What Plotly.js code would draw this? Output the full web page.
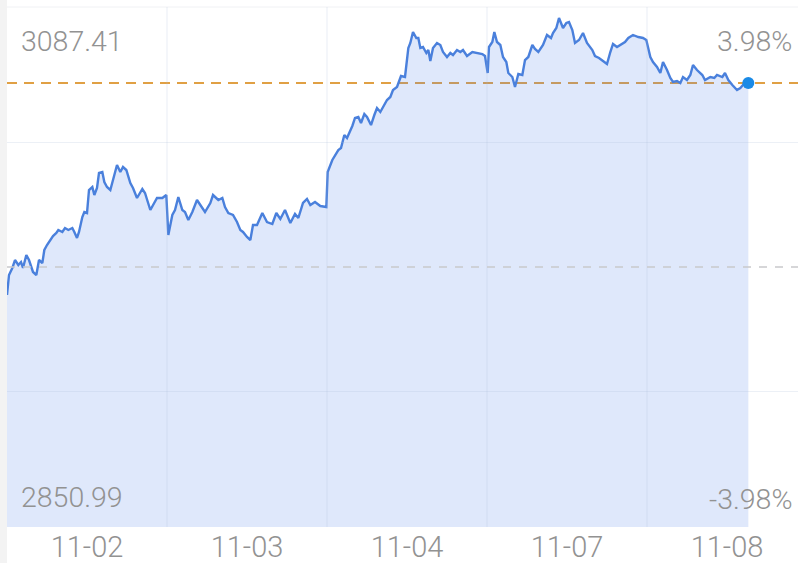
<!DOCTYPE html>
<html>
<head>
<meta charset="utf-8">
<script src="https://cdn.plot.ly/plotly-3.0.1.min.js"></script>
<style>
  html, body { margin: 0; padding: 0; background: #ffffff; }
  #chart { width: 798px; height: 563px; }
</style>
</head>
<body>
<div id="chart"></div>
<script>
// ---- data ----
const dayLabels = ['11-02', '11-03', '11-04', '11-07', '11-08'];
const minutesPerDay = 240;
const prevClose = 2969.20;
const highValue = 3087.41;
const lowValue = 2850.99;
const highLabel = '3087.41';
const lowLabel = '2850.99';
const pctUpLabel = '3.98%';
const pctDownLabel = '-3.98%';

// minute offset over the five trading sessions
const minutes = [
  0, 3, 8, 12, 17, 21, 24, 29, 33, 39, 44, 48, 53, 56, 60, 65, 69, 74, 77, 83,
  87, 92, 98, 101, 105, 108, 113, 116, 120, 123, 128, 131, 135, 138, 143, 146, 150, 155, 159, 162,
  165, 170, 174, 179, 185, 189, 195, 203, 207, 215, 219, 225, 233, 239,
  242, 248, 252, 257, 263, 267, 272, 278, 285, 290, 297, 305, 309, 317, 323, 327,
  332, 339, 345, 350, 354, 360, 365, 369, 375, 383, 390, 398, 404, 410, 417, 425,
  432, 437, 444, 450, 455, 462, 470, 479,
  481, 488, 494, 497, 501, 506, 510, 518, 522, 527, 531, 536, 540, 546, 551, 555,
  560, 566, 570, 575, 579, 585, 591, 597, 602, 605, 609, 614, 617, 620, 624, 629,
  632, 635, 639, 645, 650, 654, 660, 665, 669, 675, 680, 684, 690, 698, 705, 713, 717,
  721, 723, 728, 731, 735, 740, 744, 749, 752, 758, 762, 767, 773, 777, 782, 788,
  792, 797, 804, 810, 816, 819, 824, 828, 834, 839, 843, 848, 852, 858, 864, 870,
  878, 882, 888, 894, 900, 905, 909, 915, 920, 927, 932, 939, 947, 954, 959,
  965, 969, 975, 980, 984, 990, 995, 999, 1005, 1010, 1014, 1020, 1025, 1029, 1035,
  1043, 1047, 1055, 1061, 1065, 1073, 1077, 1082, 1088, 1095, 1100, 1104, 1112
];

const prices = [
  2955.91, 2965.40, 2968.73, 2972.52, 2970.15, 2971.57, 2968.73, 2974.90, 2972.52, 2966.83,
  2965.40, 2972.52, 2971.10, 2977.27, 2979.64, 2982.02, 2983.92, 2985.34, 2986.77, 2985.82,
  2987.71, 2986.77, 2987.71, 2985.82, 2982.97, 2985.82, 2992.94, 2995.31, 2994.84, 3005.75,
  3007.18, 3003.38, 3006.70, 3013.83, 3014.30, 3009.55, 3007.18, 3005.75, 3010.50, 3012.88,
  3017.62, 3014.30, 3016.67, 3015.25, 3009.08, 3006.70, 3001.96, 3006.23, 3004.33, 2996.26,
  2998.63, 3001.96, 3001.96, 3003.38,
  2984.39, 2993.89, 2996.26, 3002.43, 2996.26, 2995.31, 2991.51, 2995.31, 3001.01, 2998.63,
  2995.31, 2999.58, 3003.38, 3001.01, 3001.96, 2997.68,
  2994.84, 2993.89, 2990.56, 2986.77, 2985.82, 2983.44, 2982.02, 2989.14, 2989.14, 2994.84,
  2990.56, 2989.61, 2994.84, 2991.99, 2996.26, 2990.09,
  2994.36, 2992.46, 2999.58, 3001.48, 2998.63, 3000.06, 2998.16, 2997.68,
  3014.30, 3020.00, 3022.85, 3024.74, 3025.69, 3031.87, 3030.44, 3036.14, 3039.94, 3040.41,
  3037.56, 3041.83, 3040.41, 3036.61, 3041.36, 3044.68,
  3042.78, 3046.58, 3048.48, 3049.91, 3053.23, 3054.65, 3059.88, 3059.40, 3073.17, 3075.54,
  3080.76, 3077.92, 3077.92, 3073.17, 3073.64, 3070.79,
  3072.22, 3067.00, 3073.17, 3075.54, 3074.59, 3071.27, 3068.90, 3070.79, 3069.84, 3072.22,
  3071.27, 3072.22, 3069.37, 3071.27, 3070.79, 3070.32, 3069.37,
  3061.30, 3073.64, 3076.02, 3080.76, 3076.02, 3074.59, 3068.90, 3066.52, 3061.30, 3059.40,
  3054.65, 3060.82, 3060.35, 3067.47, 3068.90, 3074.59,
  3072.69, 3071.27, 3074.59, 3079.34, 3077.92, 3080.29, 3082.66, 3087.41, 3082.66, 3085.04,
  3085.51, 3081.71, 3075.54, 3076.97, 3080.29, 3075.54,
  3072.22, 3069.37, 3068.42, 3067.00, 3065.57, 3071.27, 3075.07, 3073.64, 3074.59, 3076.02,
  3077.92, 3079.34, 3078.39, 3077.92, 3076.97,
  3068.90, 3066.52, 3064.15, 3061.30, 3066.52, 3062.72, 3058.93, 3057.03, 3057.50, 3056.55,
  3059.40, 3057.98, 3060.35, 3065.10, 3062.72,
  3060.35, 3057.98, 3059.40, 3058.93, 3060.35, 3059.40, 3061.30, 3057.98, 3055.60, 3053.23,
  3054.18, 3055.60, 3056.55
];

// ---- derived from the data ----
const lastMinute = minutes[minutes.length - 1];
const lastPrice = prices[prices.length - 1];
const maxDev = highValue - prevClose;
const dayCenters = dayLabels.map((_, i) => i * minutesPerDay + minutesPerDay / 2);
const dayBounds = dayLabels.slice(1).map((_, i) => (i + 1) * minutesPerDay);

const gridColor = 'rgba(170,185,215,0.22)';
const textColor = '#929292';
const fontFam = 'Roboto, "Noto Sans", sans-serif';

const traces = [
  {
    x: minutes,
    y: prices,
    type: 'scatter',
    mode: 'lines',
    fill: 'tozeroy',
    fillcolor: 'rgba(80,130,232,0.18)',
    line: { color: '#4a80dc', width: 2.4 },
    hoverinfo: 'x+y',
    showlegend: false
  },
  {
    x: [lastMinute],
    y: [lastPrice],
    type: 'scatter',
    mode: 'markers',
    marker: { color: '#1a8ae6', size: 12 },
    showlegend: false,
    hoverinfo: 'y'
  }
];

const shapes = [];
// left gray strip
shapes.push({ type: 'rect', xref: 'paper', yref: 'paper', x0: -0.0095, x1: 0, y0: -0.07, y1: 1.02,
  fillcolor: '#f3f3f3', line: { width: 0 }, layer: 'below' });
// top border line
shapes.push({ type: 'line', xref: 'paper', yref: 'paper', x0: 0, x1: 1, y0: 1, y1: 1,
  line: { color: '#f0f1f4', width: 1 }, layer: 'above' });
// day separators
dayBounds.forEach(b => shapes.push({
  type: 'line', xref: 'x', yref: 'paper', x0: b, x1: b, y0: 0, y1: 1,
  line: { color: gridColor, width: 1.2 }, layer: 'above'
}));
// quarter grid lines
[prevClose + maxDev / 2, prevClose - maxDev / 2].forEach(v => shapes.push({
  type: 'line', xref: 'paper', yref: 'y', x0: 0, x1: 1, y0: v, y1: v,
  line: { color: gridColor, width: 1.2 }, layer: 'above'
}));
// previous close (gray dashed)
shapes.push({ type: 'line', xref: 'paper', yref: 'y', x0: 0, x1: 1, y0: prevClose, y1: prevClose,
  line: { color: '#c9c9cc', width: 1.6, dash: '8px,8px' }, layer: 'above' });
// last price (orange dashed)
shapes.push({ type: 'line', xref: 'paper', yref: 'y', x0: 0, x1: 1, y0: lastPrice, y1: lastPrice,
  line: { color: '#e0a044', width: 2, dash: '10px,7px' }, layer: 'below' });

const annFont = { family: fontFam, size: 28.5, color: textColor, weight: 300 };
const annotations = [
  { text: highLabel, xref: 'paper', yref: 'paper', x: 0.0155, y: 0.9346, xanchor: 'left', yanchor: 'middle', showarrow: false, font: annFont },
  { text: lowLabel, xref: 'paper', yref: 'paper', x: 0.0155, y: 0.0558, xanchor: 'left', yanchor: 'middle', showarrow: false, font: annFont },
  { text: pctUpLabel, xref: 'paper', yref: 'paper', x: 0.995, y: 0.9327, xanchor: 'right', yanchor: 'middle', showarrow: false, font: annFont },
  { text: pctDownLabel, xref: 'paper', yref: 'paper', x: 0.995, y: 0.052, xanchor: 'right', yanchor: 'middle', showarrow: false, font: annFont }
];

const layout = {
  width: 798,
  height: 563,
  margin: { l: 7, r: 0, t: 7, b: 36, pad: 0 },
  paper_bgcolor: '#ffffff',
  plot_bgcolor: '#ffffff',
  showlegend: false,
  xaxis: {
    range: [0, 1186.5],
    tickvals: dayCenters,
    ticktext: dayLabels,
    showgrid: false,
    zeroline: false,
    showline: false,
    ticks: '',
    tickfont: { family: fontFam, size: 29, color: textColor, weight: 300 },
    fixedrange: true
  },
  yaxis: {
    range: [prevClose - maxDev * 260 / 249, prevClose + maxDev * 260 / 249],
    showgrid: false,
    zeroline: false,
    showline: false,
    showticklabels: false,
    ticks: '',
    fixedrange: true
  },
  shapes: shapes,
  annotations: annotations
};

Plotly.newPlot('chart', traces, layout, { displayModeBar: false, staticPlot: true });
</script>
</body>
</html>
